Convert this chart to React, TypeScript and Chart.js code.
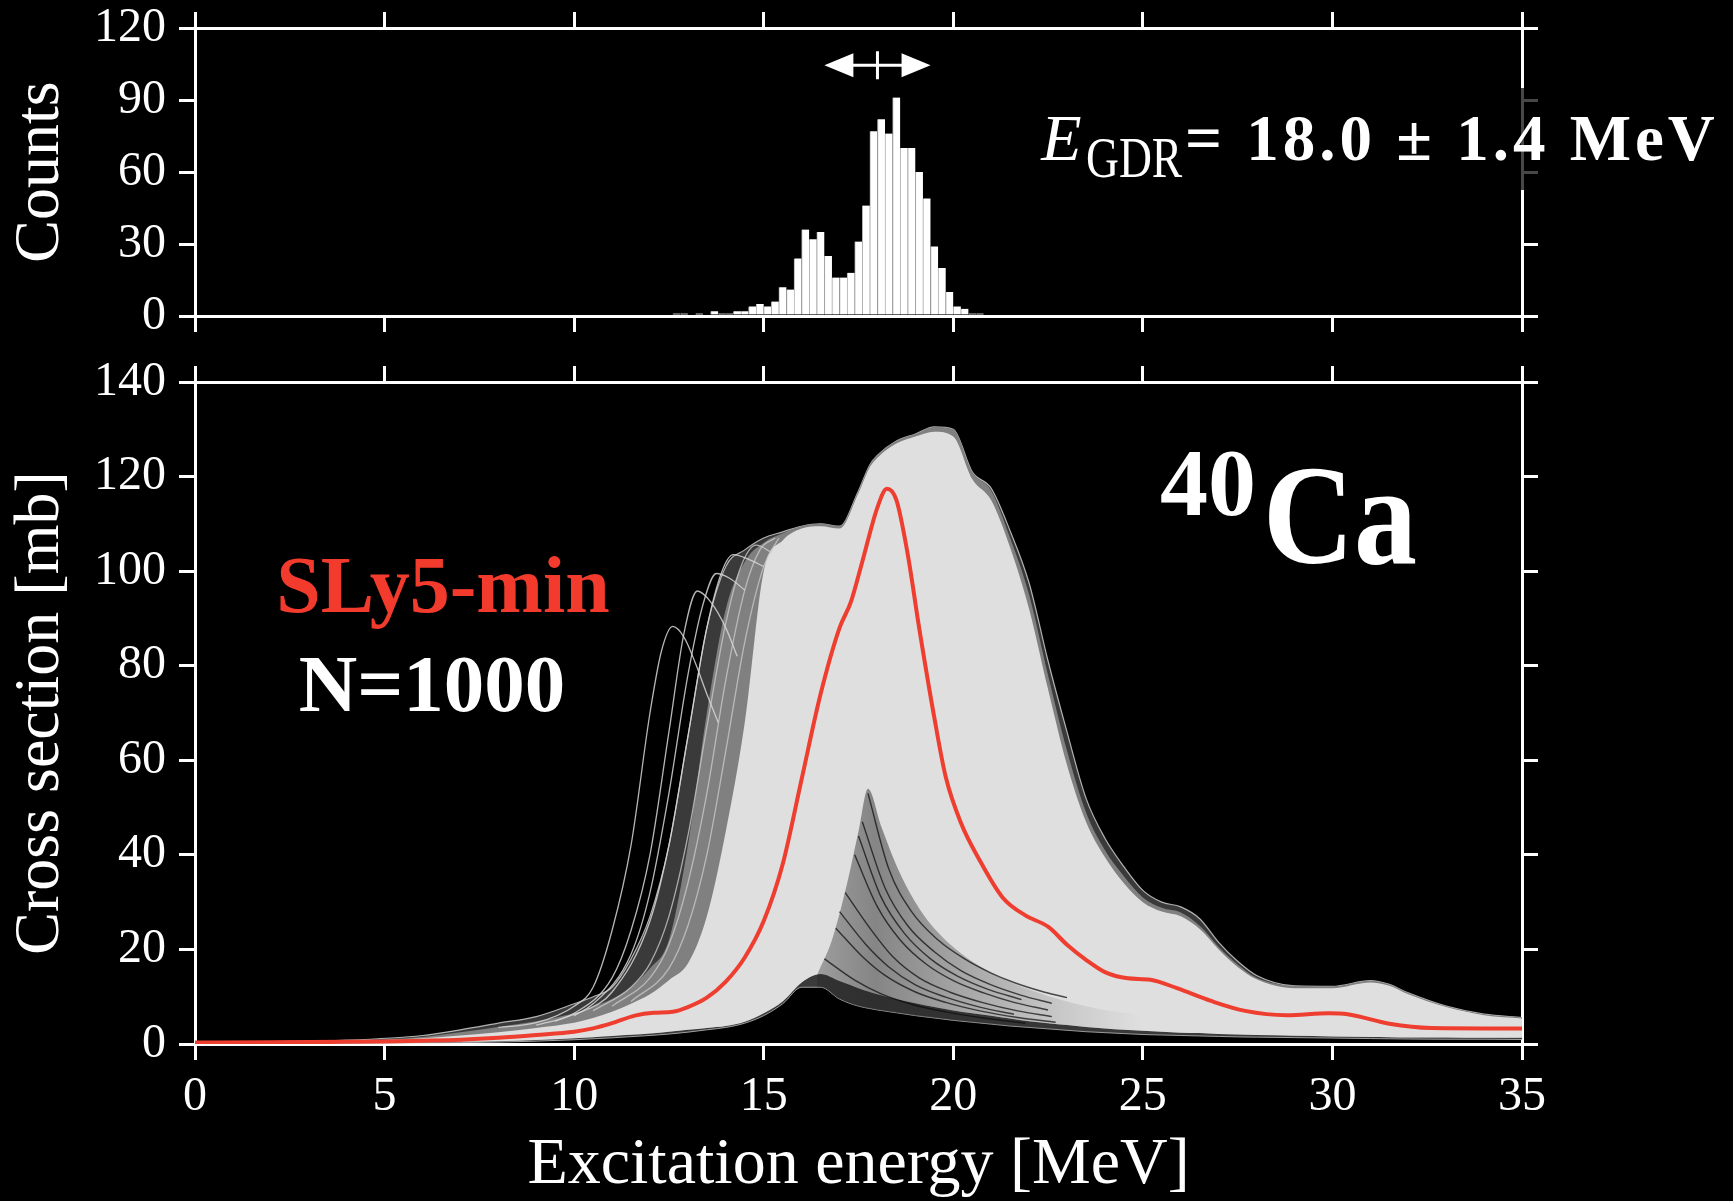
import React, { useEffect, useRef } from 'react';
import { Chart, registerables } from 'chart.js';

Chart.register(...registerables);

const FONT = '"Liberation Serif", "Times New Roman", Times, serif';
const WHITE = '#ffffff';

// ---------- tick values ----------
const energyTicks = [0, 5, 10, 15, 20, 25, 30, 35];
const countTicks = [0, 30, 60, 90, 120];
const sectionTicks = [0, 20, 40, 60, 80, 100, 120, 140];

// ---------- top panel: histogram of GDR centroid energies (0.2 MeV bins) ----------
const binCenters = [12.7, 12.9, 13.1, 13.3, 13.5, 13.7, 13.9, 14.1, 14.3, 14.5, 14.7, 14.9, 15.1, 15.3, 15.5, 15.7, 15.9, 16.1, 16.3, 16.5, 16.7, 16.9, 17.1, 17.3, 17.5, 17.7, 17.9, 18.1, 18.3, 18.5, 18.7, 18.9, 19.1, 19.3, 19.5, 19.7, 19.9, 20.1, 20.3, 20.5, 20.7];
const binCounts = [1, 1, 0, 1, 0, 2, 1, 1, 2, 2, 4, 5, 4, 6, 12, 11, 24, 36, 32, 35, 25, 16, 16, 18, 31, 46, 77, 82, 76, 91, 70, 70, 60, 49, 29, 20, 10, 4, 3, 1, 1];
const gdrMean = 18.0;
const gdrError = 1.4;
const gdrArrowLevel = 104.5;

// ---------- bottom panel: band of 1000 strength functions ----------
const energyGrid = [0, 2, 4, 6, 7, 8, 9, 10, 10.5, 11, 11.5, 12, 12.5, 13, 13.5, 14, 14.5, 15, 15.5, 16, 16.5, 17, 17.5, 17.8, 18, 18.5, 19, 19.5, 20, 20.5, 21, 21.5, 22, 22.5, 23, 23.5, 24, 24.5, 25, 25.5, 26, 26.5, 27, 27.5, 28, 29, 30, 31, 31.5, 32, 33, 34, 35];
const outerEnvelope = [0.4, 0.5, 0.8, 1.8, 3.0, 4.4, 5.8, 8.5, 10, 12, 18, 27, 42, 65, 88, 101, 104.5, 107, 108.3, 109.5, 110, 109.5, 117, 122.5, 124.5, 127.5, 129, 130.5, 130, 121, 117.5, 108.5, 97.5, 81, 66, 52, 43.5, 37.5, 32.5, 30, 29, 26.5, 21.5, 17.5, 14.5, 12.3, 12.2, 13.4, 12.6, 10.8, 8, 6.3, 5.6];
const midEnvelope = [0.3, 0.4, 0.7, 1.5, 2.5, 3.6, 4.8, 6.5, 7.8, 9.5, 12, 16, 22, 42, 70, 92, 102, 106, 108, 109.5, 110, 109.5, 117, 122.5, 124.5, 127.5, 129, 130.5, 130, 121, 117, 107, 95, 78, 62, 49, 41, 35.5, 31, 28.8, 27.8, 25, 20.5, 16.8, 14, 12.3, 12.2, 13.4, 12.6, 10.8, 8, 6.3, 5.6];
const coreUpper = [0.3, 0.4, 0.6, 1.2, 1.8, 2.5, 3.4, 4.5, 5.5, 6.8, 8.5, 10.5, 13.5, 17, 27, 45, 68, 100, 106.5, 109, 109.5, 109, 116.5, 122, 124, 127, 128.5, 129.5, 128.5, 119.5, 115, 105, 92, 75, 59, 47, 39.5, 34, 30, 28, 27, 24.3, 20, 16.3, 13.7, 11.8, 11.8, 13, 12.3, 10.5, 7.8, 6.1, 5.4];
const coreLower = [0.1, 0.15, 0.2, 0.35, 0.45, 0.6, 0.85, 1.2, 1.45, 1.7, 1.95, 2.2, 2.6, 3, 3.4, 3.8, 4.7, 6.5, 9, 13, 14.8, 13.3, 11.8, 11, 10.5, 9.5, 8.6, 7.8, 7.1, 6.5, 6, 5.4, 4.8, 4.4, 4, 3.6, 3.3, 3, 2.8, 2.6, 2.4, 2.3, 2.1, 2, 1.9, 1.75, 1.6, 1.5, 1.45, 1.4, 1.35, 1.3, 1.3];
const lowerOuter = [0.05, 0.1, 0.15, 0.25, 0.3, 0.4, 0.6, 0.9, 1.1, 1.3, 1.55, 1.8, 2.1, 2.5, 3, 3.5, 4.4, 6, 8.5, 12, 12, 9.5, 8, 7.5, 7.2, 6.6, 6, 5.5, 5, 4.6, 4.2, 3.8, 3.5, 3.2, 2.9, 2.6, 2.4, 2.2, 2, 1.9, 1.8, 1.7, 1.6, 1.5, 1.45, 1.35, 1.25, 1.15, 1.1, 1.05, 1, 1, 0.95];

// fan of low-strength curves spreading out from the cusp near 17.8 MeV
const fanEnergy = [16.4, 16.8, 17.2, 17.5, 17.75, 18.1, 18.6, 19.2, 20, 21, 22, 23, 24, 25];
const fanUpper = [14.5, 22, 34, 45, 54, 46, 36, 27.5, 20.5, 15, 11.5, 9, 7.2, 6];

// individual curves on the low-energy side (outermost ones and a few inside the striped zone)
const curveAEnergy = [8, 9, 10, 10.5, 11, 11.5, 12, 12.3, 12.6, 12.9, 13.2, 13.5, 13.8];
const curveAValues = [3.5, 4.5, 8, 12, 24, 42, 70, 83, 88.3, 86, 80.5, 74, 68];
const curveBEnergy = [9, 10, 11, 11.5, 12, 12.5, 12.9, 13.25, 13.6, 14, 14.3];
const curveBValues = [4, 6.5, 14, 24, 40, 66, 87, 95.8, 93.5, 88, 82];
const curveCEnergy = [9.5, 10.5, 11.5, 12, 12.5, 13, 13.4, 13.75, 14.1, 14.5];
const curveCValues = [4.8, 8.5, 19, 32, 53, 78, 93, 99.5, 98.5, 96];
const curveDEnergy = [10, 11, 12, 12.5, 13, 13.5, 13.9, 14.2, 14.6, 15];
const curveDValues = [6, 11, 26, 42, 65, 88, 100, 103.5, 102.5, 101];
const curveEEnergy = [10.5, 11.5, 12, 12.5, 13, 13.5, 14, 14.4, 14.8, 15.2];
const curveEValues = [7, 12, 17, 27, 44, 67, 89, 101, 105.5, 104];
const curveFEnergy = [11, 12, 12.5, 13, 13.5, 14, 14.5, 14.9, 15.3];
const curveFValues = [8, 14, 21, 34, 53, 77, 96, 104.5, 107];
const curveGEnergy = [11.5, 12.5, 13, 13.5, 14, 14.5, 15, 15.4];
const curveGValues = [9, 16, 25, 40, 62, 85, 101, 107];

// dark gaps between the fanning curves
const streak1Energy = [17.75, 18.3, 18.9, 19.6, 20.3, 21, 21.6, 22.3, 23];
const streak1Values = [53, 37, 28, 22, 18, 15, 13, 11.2, 9.8];
const streak2Energy = [17.6, 18.2, 18.8, 19.5, 20.2, 21, 21.8, 22.6];
const streak2Values = [47, 33, 25, 19.5, 15.5, 12.5, 10.3, 8.6];
const streak3Energy = [17.4, 18, 18.6, 19.3, 20, 20.8, 21.6, 22.5];
const streak3Values = [40, 29, 22, 16.8, 13.4, 10.8, 8.8, 7.2];
const streak4Energy = [17.15, 17.8, 18.4, 19.1, 19.9, 20.8, 21.7, 22.6];
const streak4Values = [32, 24.5, 18.5, 14, 11, 8.7, 7, 5.8];
const streak5Energy = [16.9, 17.6, 18.2, 19, 19.8, 20.7, 21.7, 22.7];
const streak5Values = [24.5, 18.5, 14.5, 11, 8.8, 7, 5.6, 4.6];
const streak6Energy = [16.6, 17.4, 18.1, 18.9, 19.8, 20.8, 21.9];
const streak6Values = [18, 13.5, 10.6, 8.4, 6.8, 5.5, 4.4];
const streak7Energy = [17.5, 18.1, 18.7, 19.4, 20.1, 20.9, 21.8];
const streak7Values = [44, 31, 23.5, 18, 14.4, 11.6, 9.4];
const streak8Energy = [17.0, 17.7, 18.3, 19.0, 19.8, 20.7, 21.6];
const streak8Values = [28, 21, 16.3, 12.5, 9.9, 7.8, 6.3];

// SLy5-min reference strength function
const sly5Energy = [0, 2, 4, 5, 6, 7, 8, 9, 10, 10.5, 11, 11.6, 12.1, 12.6, 13, 13.5, 14, 14.5, 15, 15.5, 16, 16.5, 17, 17.3, 17.6, 18, 18.25, 18.5, 18.8, 19.1, 19.5, 19.8, 20.2, 20.7, 21.3, 21.9, 22.5, 23, 23.5, 24, 24.6, 25.2, 25.9, 26.8, 27.7, 28.8, 29.9, 30.4, 31.5, 32.6, 35];
const sly5Values = [0.3, 0.35, 0.45, 0.55, 0.7, 0.9, 1.3, 1.9, 2.6, 3.3, 4.4, 6.0, 6.6, 6.8, 7.8, 9.8, 13.2, 18.3, 26, 38, 56, 74, 88, 93.5, 102, 113.5, 117.4, 115, 103.5, 88, 69, 56.5, 46.8, 38.8, 31, 27.2, 24.8, 21, 17.8, 15.2, 13.9, 13.6, 11.8, 9.1, 7, 6.1, 6.5, 6.3, 4.3, 3.4, 3.3];

const pts = (xs: number[], ys: number[]) => xs.map((x, i) => ({ x, y: ys[i] }));

function frameAxis(position: string, values: number[], size: number, labels: boolean, title?: string, labelPadding = 13): any {
  const horizontal = position === 'top' || position === 'bottom';
  return {
    type: 'linear',
    axis: horizontal ? 'x' : 'y',
    position,
    min: values[0],
    max: values[values.length - 1],
    offset: false,
    afterBuildTicks: (s: any) => {
      s.ticks = values.map((v) => ({ value: v }));
    },
    afterFit: (s: any) => {
      if (horizontal) s.height = size;
      else s.width = size;
      s.paddingLeft = 0;
      s.paddingRight = 0;
      s.paddingTop = 0;
      s.paddingBottom = 0;
    },
    grid: {
      display: true,
      drawOnChartArea: false,
      drawTicks: true,
      tickLength: 16,
      tickWidth: 3,
      color: WHITE,
      lineWidth: 3,
      offset: false,
    },
    border: { display: true, color: WHITE, width: 3 },
    ticks: {
      display: labels,
      color: WHITE,
      font: { family: FONT, size: 48, lineHeight: 1 },
      padding: labelPadding,
      maxRotation: 0,
      autoSkip: false,
    },
    title: title
      ? {
          display: true,
          text: title,
          color: WHITE,
          font: { family: FONT, size: horizontal ? 66 : 64, lineHeight: 1 },
          padding: horizontal ? { top: 0, bottom: 2 } : { top: 9, bottom: 0 },
        }
      : { display: false },
  };
}

const topAnnotations = {
  id: 'topAnnotations',
  afterDraw(chart: any) {
    const { ctx, chartArea } = chart;
    const xs = chart.scales.x;
    const ys = chart.scales.y;
    ctx.save();
    // error bar (mean +- width) with arrow heads
    const y = ys.getPixelForValue(gdrArrowLevel);
    const xl = xs.getPixelForValue(gdrMean - gdrError);
    const xr = xs.getPixelForValue(gdrMean + gdrError);
    const xm = xs.getPixelForValue(gdrMean);
    ctx.strokeStyle = WHITE;
    ctx.fillStyle = WHITE;
    ctx.lineWidth = 3;
    ctx.beginPath();
    ctx.moveTo(xl + 20, y);
    ctx.lineTo(xr - 20, y);
    ctx.moveTo(xm, y - 14);
    ctx.lineTo(xm, y + 14);
    ctx.stroke();
    ctx.beginPath();
    ctx.moveTo(xl, y);
    ctx.lineTo(xl + 29, y - 12);
    ctx.lineTo(xl + 29, y + 12);
    ctx.closePath();
    ctx.fill();
    ctx.beginPath();
    ctx.moveTo(xr, y);
    ctx.lineTo(xr - 29, y - 12);
    ctx.lineTo(xr - 29, y + 12);
    ctx.closePath();
    ctx.fill();

    // translucent backing of the label over the right axis
    const bTop = ys.getPixelForValue(95);
    const bBot = ys.getPixelForValue(52.5);
    ctx.fillStyle = 'rgba(0,0,0,0.72)';
    ctx.fillRect(chartArea.right - 14, bTop, 30, bBot - bTop);

    // E_GDR label
    ctx.fillStyle = WHITE;
    ctx.textAlign = 'left';
    ctx.textBaseline = 'alphabetic';
    ctx.font = `italic 66px ${FONT}`;
    ctx.fillText('E', xs.getPixelForValue(22.32), ys.getPixelForValue(65));
    ctx.save();
    ctx.translate(xs.getPixelForValue(23.5), ys.getPixelForValue(57.9));
    ctx.scale(0.95, 1.2);
    ctx.font = `48px ${FONT}`;
    ctx.fillText('GDR', 0, 0);
    ctx.restore();
    ctx.font = `bold 65px ${FONT}`;
    try {
      ctx.letterSpacing = '4px';
    } catch (e) {}
    ctx.fillText('= 18.0 ± 1.4 MeV', xs.getPixelForValue(26.11), ys.getPixelForValue(65));
    try {
      ctx.letterSpacing = '0px';
    } catch (e) {}
    ctx.restore();
  },
};

const bottomAnnotations = {
  id: 'bottomAnnotations',
  afterDraw(chart: any) {
    const { ctx } = chart;
    const xs = chart.scales.x;
    const ys = chart.scales.y;
    ctx.save();
    ctx.textBaseline = 'alphabetic';
    ctx.textAlign = 'center';
    ctx.fillStyle = 'rgb(243,59,45)';
    ctx.font = `bold 80px ${FONT}`;
    ctx.fillText('SLy5-min', xs.getPixelForValue(6.54), ys.getPixelForValue(91.3));
    ctx.fillStyle = WHITE;
    ctx.font = `bold 81px ${FONT}`;
    ctx.fillText('N=1000', xs.getPixelForValue(6.25), ys.getPixelForValue(70.4));
    ctx.textAlign = 'left';
    ctx.font = `bold 96px ${FONT}`;
    ctx.fillText('40', xs.getPixelForValue(25.45), ys.getPixelForValue(111.8));
    ctx.save();
    ctx.translate(xs.getPixelForValue(28.17), ys.getPixelForValue(101.7));
    ctx.scale(1, 1.12);
    ctx.font = `bold 126px ${FONT}`;
    ctx.fillText('Ca', 0, 0);
    ctx.restore();
    ctx.restore();
  },
};

const CLEAR = 'rgba(0,0,0,0)';
const LIGHT_LINE = 'rgba(215,215,215,0.85)';
const DARK_LINE = 'rgba(12,12,12,0.72)';

function bandDataset(ys: number[], fillTarget: number | false, color: string, order: number, border = CLEAR, borderWidth = 0): any {
  return {
    type: 'line',
    data: pts(energyGrid, ys),
    pointRadius: 0,
    borderColor: border,
    borderWidth,
    backgroundColor: color,
    fill: fillTarget === false ? false : { target: fillTarget, above: color, below: color },
    cubicInterpolationMode: 'monotone',
    order,
  };
}

function curveDataset(xs: number[], ys: number[], color: string, width: number, order: number): any {
  return {
    type: 'line',
    data: pts(xs, ys),
    pointRadius: 0,
    borderColor: color,
    borderWidth: width,
    fill: false,
    cubicInterpolationMode: 'monotone',
    order,
  };
}

function fanShade(c: any) {
  const chart = c.chart;
  const xs = chart.scales && chart.scales.x;
  if (!chart.chartArea || !xs) return 'rgba(40,40,40,0.35)';
  const g = chart.ctx.createLinearGradient(xs.getPixelForValue(fanEnergy[0]), 0, xs.getPixelForValue(fanEnergy[fanEnergy.length - 1]), 0);
  g.addColorStop(0, 'rgba(35,35,35,0.35)');
  g.addColorStop(0.18, 'rgba(35,35,35,0.48)');
  g.addColorStop(0.45, 'rgba(35,35,35,0.3)');
  g.addColorStop(0.75, 'rgba(35,35,35,0.12)');
  g.addColorStop(1, 'rgba(35,35,35,0)');
  return g;
}

function makeTopConfig(): any {
  return {
    type: 'bar',
    data: {
      datasets: [
        {
          type: 'bar',
          data: pts(binCenters, binCounts),
          backgroundColor: WHITE,
          borderColor: 'rgb(175,175,175)',
          borderWidth: { left: 1, right: 0, top: 0, bottom: 0 },
          borderSkipped: false,
          barPercentage: 1,
          categoryPercentage: 1,
        },
      ],
    },
    options: {
      responsive: false,
      animation: false,
      devicePixelRatio: 1,
      events: [],
      layout: { padding: 0 },
      plugins: { legend: { display: false }, tooltip: { enabled: false } },
      scales: {
        x: frameAxis('bottom', energyTicks, 34, false),
        x2: frameAxis('top', energyTicks, 28, false),
        y: frameAxis('left', countTicks, 195, true, 'Counts'),
        y2: frameAxis('right', countTicks, 211, false),
      },
    },
    plugins: [topAnnotations],
  };
}

function makeBottomConfig(): any {
  return {
    type: 'line',
    data: {
      datasets: [
        bandDataset(outerEnvelope, 4, 'rgb(58,58,58)', 30, 'rgba(215,215,215,0.8)', 1.2),
        bandDataset(midEnvelope, 3, 'rgb(128,128,128)', 29),
        bandDataset(coreUpper, 3, 'rgb(223,223,223)', 28),
        bandDataset(coreLower, false, CLEAR, 27),
        bandDataset(lowerOuter, false, CLEAR, 26, 'rgba(190,190,190,0.8)', 1),
        {
          type: 'line',
          data: pts(fanEnergy, fanUpper),
          pointRadius: 0,
          borderColor: CLEAR,
          borderWidth: 0,
          backgroundColor: fanShade,
          fill: { target: 4 },
          cubicInterpolationMode: 'monotone',
          order: 25,
        },
        curveDataset(curveAEnergy, curveAValues, LIGHT_LINE, 1.3, 10),
        curveDataset(curveBEnergy, curveBValues, LIGHT_LINE, 1.3, 10),
        curveDataset(curveCEnergy, curveCValues, LIGHT_LINE, 1.3, 10),
        curveDataset(curveDEnergy, curveDValues, LIGHT_LINE, 1.3, 10),
        curveDataset(curveEEnergy, curveEValues, 'rgba(200,200,200,0.8)', 1.3, 10),
        curveDataset(curveFEnergy, curveFValues, 'rgba(200,200,200,0.8)', 1.3, 10),
        curveDataset(curveGEnergy, curveGValues, 'rgba(200,200,200,0.8)', 1.3, 10),
        curveDataset(streak1Energy, streak1Values, DARK_LINE, 1.4, 9),
        curveDataset(streak2Energy, streak2Values, DARK_LINE, 1.4, 9),
        curveDataset(streak3Energy, streak3Values, DARK_LINE, 1.4, 9),
        curveDataset(streak4Energy, streak4Values, DARK_LINE, 1.4, 9),
        curveDataset(streak5Energy, streak5Values, DARK_LINE, 1.4, 9),
        curveDataset(streak6Energy, streak6Values, DARK_LINE, 1.4, 9),
        curveDataset(streak7Energy, streak7Values, DARK_LINE, 1.4, 9),
        curveDataset(streak8Energy, streak8Values, DARK_LINE, 1.4, 9),
        curveDataset(sly5Energy, sly5Values, 'rgb(238,62,48)', 4, 0),
      ],
    },
    options: {
      responsive: false,
      animation: false,
      devicePixelRatio: 1,
      events: [],
      layout: { padding: 0 },
      plugins: { legend: { display: false }, tooltip: { enabled: false } },
      scales: {
        x: frameAxis('bottom', energyTicks, 157, true, 'Excitation energy [MeV]', 13),
        x2: frameAxis('top', energyTicks, 32, false),
        y: frameAxis('left', sectionTicks, 195, true, 'Cross section [mb]'),
        y2: frameAxis('right', sectionTicks, 211, false),
      },
    },
    plugins: [bottomAnnotations],
  };
}

export default function App() {
  const topRef = useRef<HTMLCanvasElement>(null);
  const botRef = useRef<HTMLCanvasElement>(null);

  useEffect(() => {
    document.body.style.margin = '0';
    document.body.style.background = '#000';
    const top = new Chart(topRef.current as HTMLCanvasElement, makeTopConfig());
    const bottom = new Chart(botRef.current as HTMLCanvasElement, makeBottomConfig());
    return () => {
      top.destroy();
      bottom.destroy();
    };
  }, []);

  return (
    <div style={{ position: 'absolute', left: 0, top: 0, width: 1733, height: 1201, background: '#000', overflow: 'hidden' }}>
      <canvas ref={topRef} width={1733} height={350} style={{ position: 'absolute', left: 0, top: 0, width: 1733, height: 350 }} />
      <canvas ref={botRef} width={1733} height={851} style={{ position: 'absolute', left: 0, top: 350, width: 1733, height: 851 }} />
    </div>
  );
}
